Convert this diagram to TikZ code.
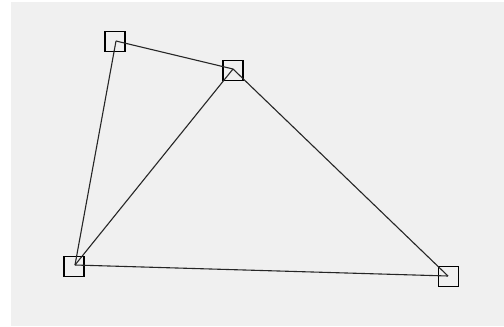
\documentclass[tikz,border=0pt]{standalone}
\definecolor{bggray}{HTML}{F0F0F0}
\tikzset{
  pt/.style={draw=black, line width=1.6pt, minimum size=20pt, inner sep=0pt, outer sep=0pt, fill=none},
  edge/.style={draw=black!85, line width=1.1pt}
}
\begin{document}
\begin{tikzpicture}[x=1pt,y=-1pt]
\useasboundingbox (0,0) rectangle (504,327);
\fill[white] (0,0) rectangle (504,327);
\fill[bggray] (11,2) rectangle (504,326);
\node[pt] (a) at (115,41.5) {};
\node[pt] (b) at (233,70.5) {};
\node[pt] (c) at (74,266.5) {};
\node[pt] (d) at (448.5,276.5) {};
\coordinate (ac) at (116,41);
\coordinate (bc) at (233,69);
\coordinate (cc) at (75,265);
\coordinate (dc) at (448,276);
\draw[edge] (ac) -- (bc);
\draw[edge] (ac) -- (cc);
\draw[edge] (bc) -- (cc);
\draw[edge] (bc) -- (dc);
\draw[edge] (cc) -- (dc);
\end{tikzpicture}
\end{document}
